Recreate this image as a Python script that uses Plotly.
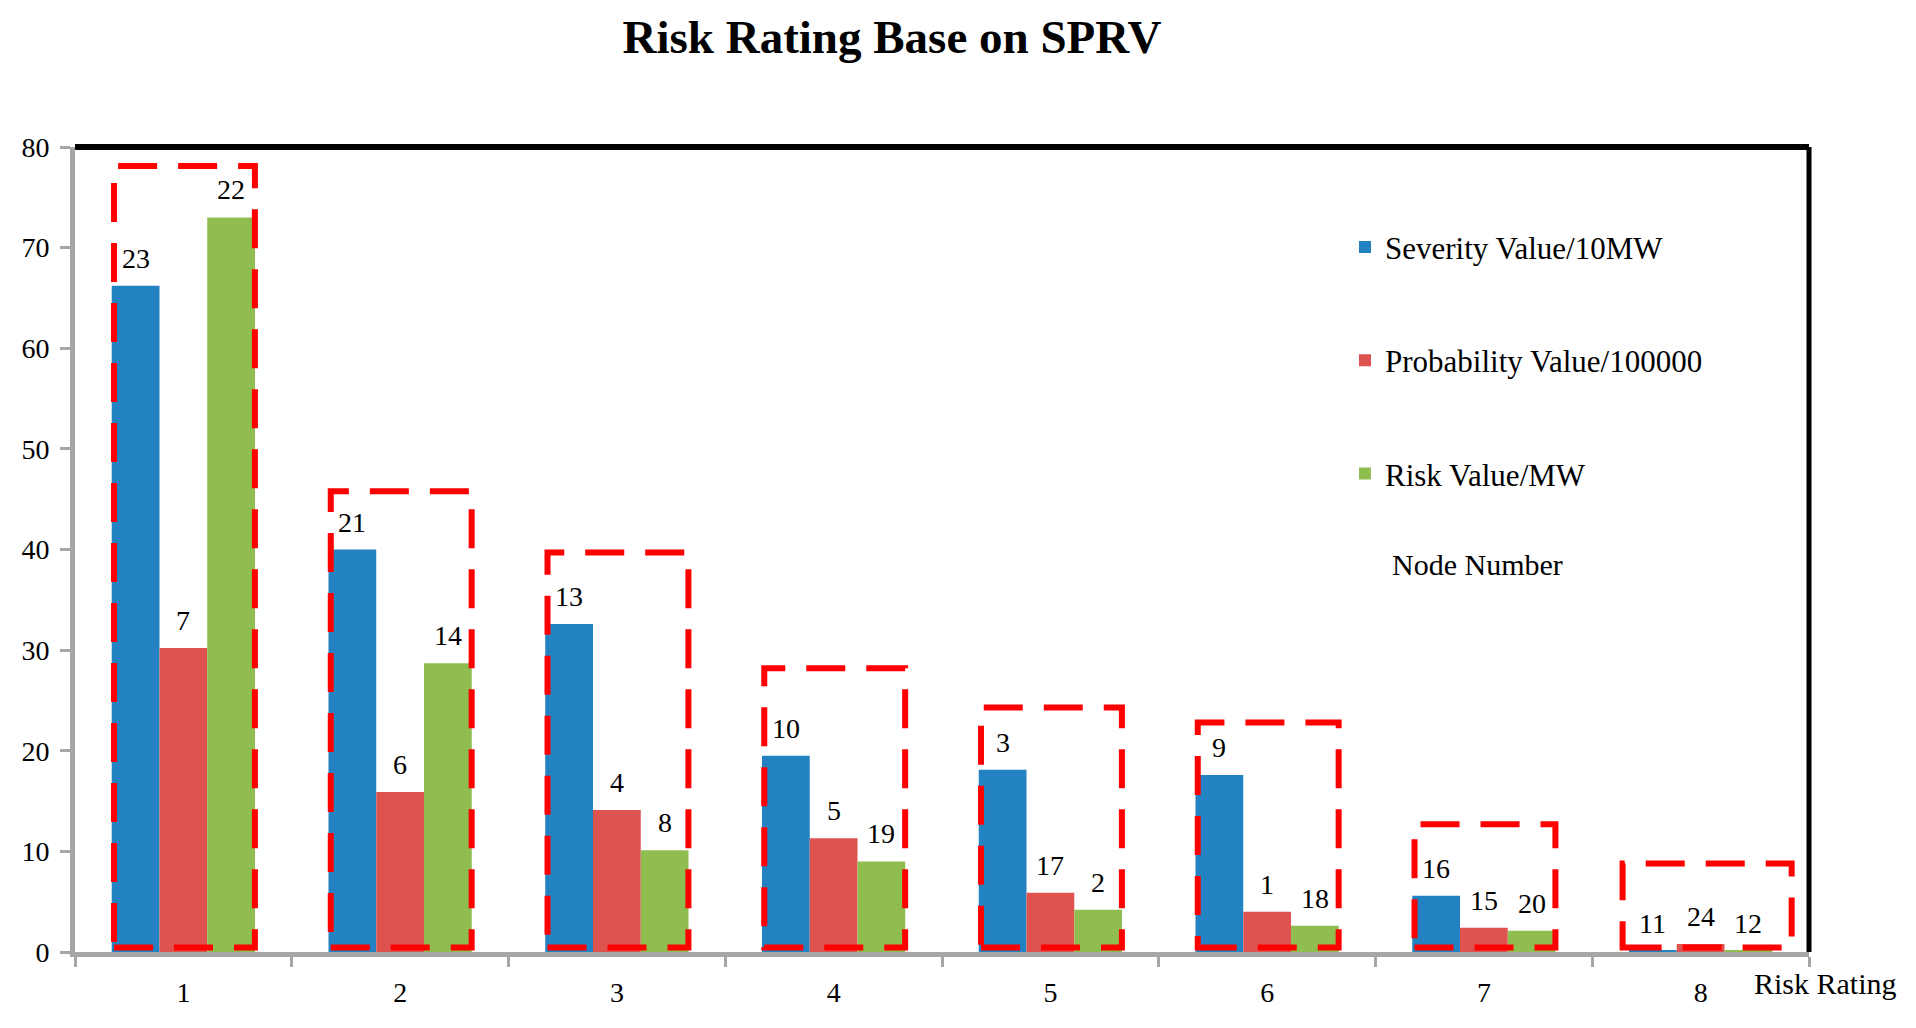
import plotly.graph_objects as go

# ---------------- data ----------------
categories = ["1", "2", "3", "4", "5", "6", "7", "8"]
severity = [66.2, 40.0, 32.6, 19.5, 18.1, 17.6, 5.6, 0.1]
probability = [30.2, 15.9, 14.1, 11.3, 5.9, 4.0, 2.4, 0.8]
risk = [73.0, 28.7, 10.1, 9.0, 4.2, 2.6, 2.1, 0.1]

node_severity = ["23", "21", "13", "10", "3", "9", "16", "11"]
node_probability = ["7", "6", "4", "5", "17", "1", "15", "24"]
node_risk = ["22", "14", "8", "19", "2", "18", "20", "12"]

box_tops = [78.1, 45.8, 39.7, 28.2, 24.3, 22.8, 12.7, 8.8]
box_bottom = 0.45

series_names = ["Severity Value/10MW", "Probability Value/100000", "Risk Value/MW"]
series_colors = ["#2382C1", "#DE5250", "#8FBD50"]

FONT = "Liberation Serif, Times New Roman, serif"
BARGAP = 0.339

# page body has an 8px margin; shift the figure accordingly
OFF = 8
ML, MT = 75 - OFF, 147 - OFF
PW, PH = 1734, 805
MR = 1916 - ML - PW
MB = 1028 - MT - PH

fig = go.Figure()
all_values = [severity, probability, risk]
all_nodes = [node_severity, node_probability, node_risk]
for j, (name, vals, col) in enumerate(zip(series_names, all_values, series_colors)):
    fig.add_trace(go.Bar(
        x=categories, y=vals, name=name, marker=dict(color=col, line=dict(width=0)),
        legendgroup=name,
    ))

# node number labels above bars
bar_w = (1 - BARGAP) / 3
annotations = []
for j, (vals, nodes) in enumerate(zip(all_values, all_nodes)):
    for i, (v, t) in enumerate(zip(vals, nodes)):
        annotations.append(dict(
            x=i + (j - 1) * bar_w, y=v, xref="x", yref="y", text=t,
            showarrow=False, yanchor="bottom", xanchor="center", yshift=10,
            font=dict(family=FONT, size=28, color="black"),
        ))


def px_x(px):
    return (px - 75) / PW


def px_y(py):
    return (951.7 - py) / PH


annotations.append(dict(
    x=px_x(1390), y=px_y(564), xref="paper", yref="paper", text="Node Number",
    showarrow=False, xanchor="left", yanchor="middle",
    font=dict(family=FONT, size=30, color="black"),
))
annotations.append(dict(
    x=px_x(1825), y=px_y(983), xref="paper", yref="paper",
    text="Risk Rating", showarrow=False, xanchor="center", yanchor="middle",
    font=dict(family=FONT, size=30, color="black"),
))

shapes = []
for i, top in enumerate(box_tops):
    left, right = (0.32, 0.33) if i < len(box_tops) - 1 else (0.36, 0.42)
    shapes.append(dict(
        type="rect", xref="x", yref="y", x0=i - left, x1=i + right,
        y0=box_bottom, y1=top, line=dict(color="#FF0000", width=6, dash="39px,21px"),
        fillcolor="rgba(0,0,0,0)", layer="above",
    ))
# top and right black borders
shapes.append(dict(type="line", xref="paper", yref="paper", x0=0, x1=1, y0=1, y1=1,
                   line=dict(color="black", width=6)))
shapes.append(dict(type="line", xref="paper", yref="paper", x0=1, x1=1, y0=0, y1=1,
                   line=dict(color="black", width=5)))

fig.update_layout(
    width=1916, height=1028,
    margin=dict(l=ML, r=MR, t=MT, b=MB),
    paper_bgcolor="white", plot_bgcolor="white",
    barmode="group", bargap=BARGAP, bargroupgap=0,
    font=dict(family=FONT, size=28, color="black"),
    title=dict(text="<b>Risk Rating Base on SPRV</b>", x=(892 - OFF) / 1916, xref="container",
               xanchor="center", y=1 - (37 - OFF) / 1028, yanchor="middle",
               font=dict(family=FONT, size=47, color="black")),
    legend=dict(x=px_x(1345), y=px_y(220), xanchor="left", yanchor="top",
                font=dict(family=FONT, size=31, color="black"), tracegroupgap=70,
                bgcolor="rgba(0,0,0,0)"),
    xaxis=dict(type="category", showline=True, linecolor="#A6A6A6", linewidth=5,
               ticks="outside", tickson="boundaries", ticklen=10, tickwidth=3,
               tickcolor="#A6A6A6", showgrid=False, zeroline=False,
               tickfont=dict(family=FONT, size=28), ticklabelstandoff=11),
    yaxis=dict(range=[0, 80], dtick=10, showline=True, linecolor="#A6A6A6", linewidth=5,
               ticks="outside", ticklen=10, tickwidth=3, tickcolor="#A6A6A6",
               showgrid=False, zeroline=False, tickfont=dict(family=FONT, size=28),
               ticklabelstandoff=5),
    annotations=annotations, shapes=shapes,
)

fig.write_html("out.html")
